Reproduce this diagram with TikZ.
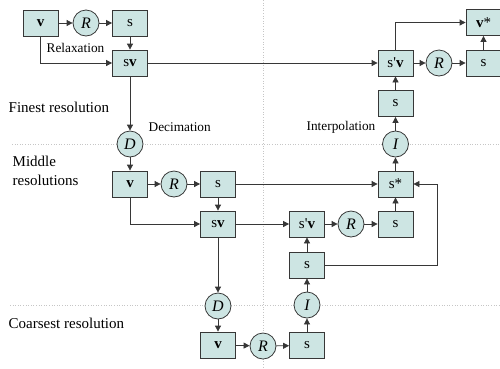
\documentclass[tikz,border=0pt]{standalone}
\usepackage{fontspec}
\setmainfont{Liberation Serif}
\usetikzlibrary{arrows.meta,calc}
\definecolor{boxfill}{RGB}{205,229,227}
\definecolor{linegray}{RGB}{55,55,55}

\begin{document}
\begin{tikzpicture}[
  x=1pt,y=-1pt,
  font=\fontsize{13.3}{16}\selectfont,
  >={Triangle[length=6pt,width=6pt]},
  line width=0.8pt,
  box/.style={draw=linegray,fill=boxfill,minimum width=35pt,minimum height=26pt,
    inner sep=0pt,font=\fontsize{15}{17}\selectfont},
  op/.style={draw=linegray,fill=boxfill,circle,minimum size=26pt,inner sep=0pt,
    font=\fontsize{16}{18}\selectfont\itshape},
  level/.style={anchor=west,align=left,font=\fontsize{15}{19}\selectfont},
  guide/.style={gray!45,dotted,line width=0.6pt},
  flow/.style={->,linegray},
]
\useasboundingbox (0,0) rectangle (500,368);

% resolution guides
\draw[guide] (263,0) -- (263,368);
\draw[guide] (12,144) -- (500,144);
\draw[guide] (10,305) -- (500,305);

% finest resolution, going down
\node[box] (vf)  at (40.5,23) {\textbf{v}};
\node[op]  (rf)  at (86,23)   {R};
\node[box] (sf)  at (130,23)  {s};
\node[box] (svf) at (130,63)  {s\textbf{v}};
\node[op]  (df)  at (130,144) {D};

% middle resolutions, going down
\node[box] (vm)  at (130,184)   {\textbf{v}};
\node[op]  (rm)  at (174,184)   {R};
\node[box] (sm)  at (218,184)   {s};
\node[box] (svm) at (218,224)   {s\textbf{v}};
\node[op]  (dm)  at (218,306)   {D};

% coarsest resolution
\node[box] (vc)  at (218,345)   {\textbf{v}};
\node[op]  (rc)  at (263,346)   {R};
\node[box] (sc)  at (307,345.5) {s};

% middle resolutions, going up
\node[op]  (ic)  at (307,305)   {I};
\node[box] (si)  at (307,265)   {s};
\node[box] (spvm) at (307,224)  {s\textquotesingle\textbf{v}};
\node[op]  (rpm) at (351,224)   {R};
\node[box] (spm) at (395.5,224) {s};
\node[box] (sst) at (395.5,184) {s*};
\node[op]  (im)  at (395.5,144) {I};

% finest resolution, going up
\node[box] (sif)  at (395.5,103.5) {s};
\node[box] (spvf) at (395.5,63)    {s\textquotesingle\textbf{v}};
\node[op]  (rpf)  at (439,63)      {R};
\node[box] (spf)  at (483.5,63)    {s};
\node[box] (vst)  at (483.5,22.5)  {\textbf{v}*};

\coordinate (ret) at (437,265);

% labels
\node (lrelax) at (75.5,48) {Relaxation};
\node[level] (lfine) at (5,107) {Finest resolution};
\node[anchor=west] (ldec) at (145,127) {Decimation};
\node[level] (lmid) at (9,171) {Middle\\resolutions};
\node (linterp) at (341,127) {Interpolation};
\node[level] (lcoarse) at (5,323) {Coarsest resolution};

% connectors
\draw[flow] (vf) -- (rf);
\draw[flow] (rf) -- (sf);
\draw[flow] (sf) -- (svf);
\draw[flow] (vf.south) |- (svf.west);
\draw[flow] (svf) -- (spvf);
\draw[flow] (svf) -- (df);
\draw[flow] (df) -- (vm);
\draw[flow] (vm) -- (rm);
\draw[flow] (rm) -- (sm);
\draw[flow] (sm) -- (svm);
\draw[flow] (vm.south) |- (svm.west);
\draw[flow] (sm) -- (sst);
\draw[flow] (svm) -- (spvm);
\draw[flow] (svm) -- (dm);
\draw[flow] (dm) -- (vc);
\draw[flow] (vc) -- (rc);
\draw[flow] (rc) -- (sc);
\draw[flow] (sc) -- (ic);
\draw[flow] (ic) -- (si);
\draw[flow] (si) -- (spvm);
\draw[flow] (si.east) -- (ret) |- (sst.east);
\draw[flow] (spvm) -- (rpm);
\draw[flow] (rpm) -- (spm);
\draw[flow] (spm) -- (sst);
\draw[flow] (sst) -- (im);
\draw[flow] (im) -- (sif);
\draw[flow] (sif) -- (spvf);
\draw[flow] (spvf) -- (rpf);
\draw[flow] (rpf) -- (spf);
\draw[flow] (spf) -- (vst);
\draw[flow] (spvf.north) |- (vst.west);

\end{tikzpicture}
\end{document}
